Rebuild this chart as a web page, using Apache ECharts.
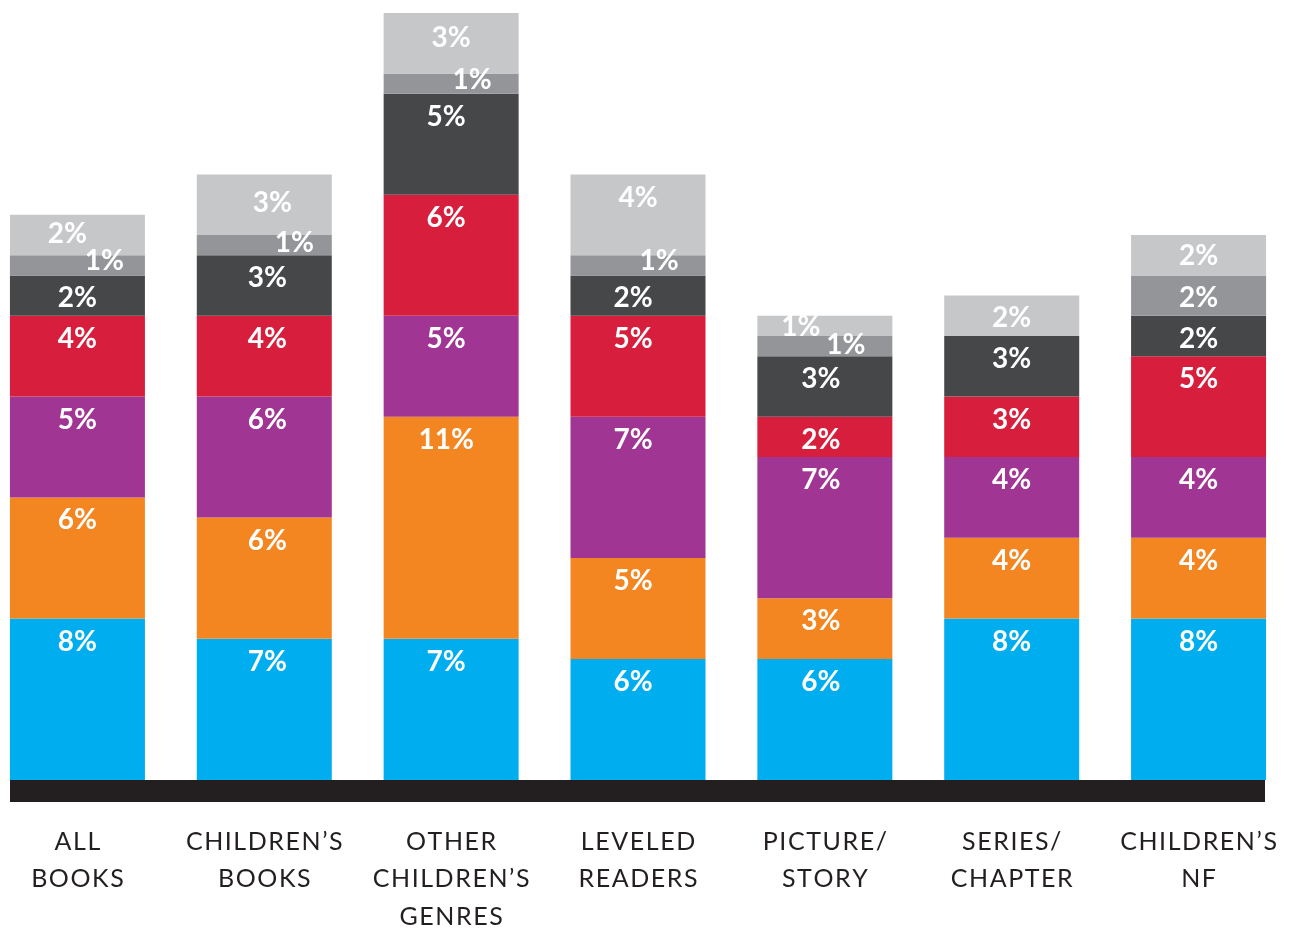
<!DOCTYPE html>
<html>
<head>
<meta charset="utf-8">
<script src="https://cdn.jsdelivr.net/npm/echarts@6/dist/echarts.min.js"></script>
<style>
  html, body { margin: 0; padding: 0; background: #ffffff; }
  #chart { width: 1291px; height: 928px; }
</style>
</head>
<body>
<div id="chart"></div>
<script>
// Category labels (two or three lines each)
const categories = [
  'ALL\nBOOKS',
  'CHILDREN\u2019S\nBOOKS',
  'OTHER\nCHILDREN\u2019S\nGENRES',
  'LEVELED\nREADERS',
  'PICTURE/\nSTORY',
  'SERIES/\nCHAPTER',
  'CHILDREN\u2019S\nNF'
];

// Stacked shares, bottom to top (percent)
const bandA = [8, 7, 7, 6, 6, 8, 8];
const bandB = [6, 6, 11, 5, 3, 4, 4];
const bandC = [5, 6, 5, 7, 7, 4, 4];
const bandD = [4, 4, 6, 5, 2, 3, 5];
const bandE = [2, 3, 5, 2, 3, 3, 2];
const bandF = [1, 1, 1, 1, 1, 0, 2];
const bandG = [2, 3, 3, 4, 1, 2, 2];

const bands = [
  { name: 'A', values: bandA, color: '#00adee' },
  { name: 'B', values: bandB, color: '#f48621' },
  { name: 'C', values: bandC, color: '#a03594' },
  { name: 'D', values: bandD, color: '#d71f3d' },
  { name: 'E', values: bandE, color: '#464749' },
  { name: 'F', values: bandF, color: '#939598' },
  { name: 'G', values: bandG, color: '#c6c7c9' }
];

// Label nudges (px): horizontal shift per bar for the main bands,
// explicit [dx, dy] for the two thin top bands
const bodyShiftX = [0, 3, -5, -5, -4, 0, 0];
const bandFShift = [[27, -17], [30, -15], [21, -17], [21, -17], [21, -14], [0, 0], [0, 0]];
const bandGShift = [[-10, -4], [8, 5], [0, 2], [0, 0], [-24, -12], [0, -1], [0, -2]];

function labelOffset(name, i) {
  if (name === 'F') return bandFShift[i];
  if (name === 'G') return bandGShift[i];
  return [bodyShiftX[i], 0];
}

// Widen letter spacing of the category labels
function spaced(s) {
  return s.split('\n').map(function (line) {
    return Array.from(line).join('\u200A');
  }).join('\n');
}

const series = bands.map(function (b) {
  return {
    name: b.name,
    type: 'bar',
    stack: 'total',
    barWidth: 135,
    itemStyle: { color: b.color },
    label: {
      show: true,
      position: 'insideTop',
      distance: 8,
      color: '#ffffff',
      fontFamily: 'Lato',
      fontWeight: 'bold',
      fontSize: 28,
      lineHeight: 30,
      formatter: function (p) { return p.value ? p.value + '%' : ''; }
    },
    data: b.values.map(function (v, i) {
      return { value: v, label: { offset: labelOffset(b.name, i) } };
    })
  };
});

const chart = echarts.init(document.getElementById('chart'), null, { renderer: 'canvas' });
chart.setOption({
  animation: false,
  backgroundColor: '#ffffff',
  grid: [
    { left: -16, width: 1308, top: 13, height: 767, outerBoundsMode: 'none', containLabel: false },
    { left: 10, width: 1255, top: 700, height: 91, outerBoundsMode: 'none', containLabel: false }
  ],
  xAxis: [
    {
      type: 'category',
      gridIndex: 0,
      data: categories,
      axisLine: { show: false },
      axisTick: { show: false },
      axisLabel: {
        margin: 43,
        interval: 0,
        color: '#231f20',
        fontFamily: 'Lato',
        fontSize: 25,
        lineHeight: 37.5,
        verticalAlign: 'top',
        formatter: function (v) { return spaced(v); }
      }
    },
    {
      type: 'category',
      gridIndex: 1,
      data: [''],
      axisLine: { show: true, onZero: false, lineStyle: { color: '#231f20', width: 22, cap: 'butt' } },
      axisTick: { show: false },
      axisLabel: { show: false }
    }
  ],
  yAxis: [
    { type: 'value', gridIndex: 0, min: 0, max: 38, show: false },
    { type: 'value', gridIndex: 1, min: 0, max: 1, show: false }
  ],
  series: series
});
</script>
</body>
</html>
